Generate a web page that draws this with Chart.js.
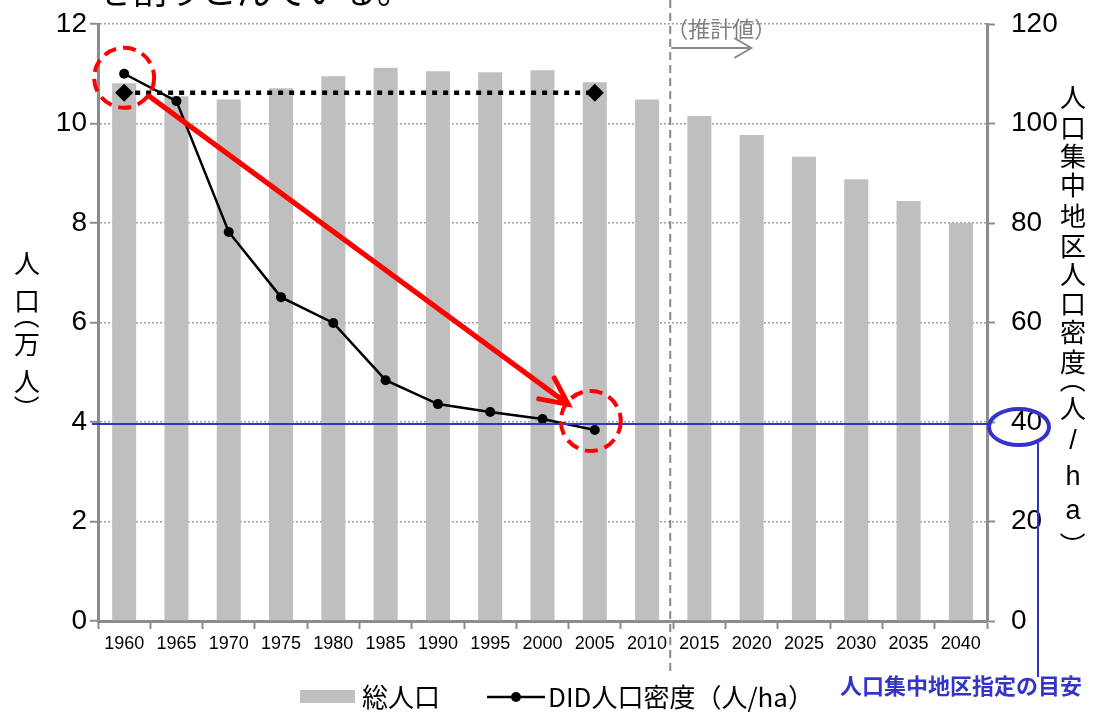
<!DOCTYPE html>
<html>
<head>
<meta charset="utf-8">
<script src="https://cdn.jsdelivr.net/npm/chart.js@4"></script>
<style>
  html, body { margin: 0; padding: 0; background: #fff; }
</style>
</head>
<body>
<canvas id="myChart" width="1102" height="716"></canvas>
<script>
const years = ['1960', '1965', '1970', '1975', '1980', '1985', '1990', '1995', '2000',
  '2005', '2010', '2015', '2020', '2025', '2030', '2035', '2040'];
// 総人口 (万人)
const totalPop = [10.81, 10.55, 10.48, 10.71, 10.95, 11.12, 11.05, 11.03, 11.07,
  10.83, 10.48, 10.15, 9.77, 9.33, 8.88, 8.44, 8.0];
// DID人口密度 (人/ha)
const didDensity = [110.0, 104.5, 78.2, 65.1, 59.9, 48.4, 43.6, 42.0, 40.6, 38.4,
  null, null, null, null, null, null, null];
// dotted reference between 1960 and 2005 (left axis)
const flatRef = [10.62, null, null, null, null, null, null, null, null, 10.62,
  null, null, null, null, null, null, null];
const didTarget = 39.6;   // 人口集中地区指定の目安
const leftTitle = ['人', '口', '（', '万', '人', '）'];
const rightTitle = ['人', '口', '集', '中', '地', '区', '人', '口', '密', '度', '（', '人', '/', 'h', 'a', '）'];

const NUM_FONT = '"Liberation Sans", Arial, sans-serif';
const JP_FONT = '"Noto Sans CJK JP", "Liberation Sans", sans-serif';
const GRAY = '#8c8c8c';
const BLUE = '#3434c8';
const RED = '#ff0000';

// draw one character of a vertical title; brackets are turned to vertical form
function vChar(ctx, ch, x, y) {
  if (ch === '（' || ch === '）') {
    ctx.save();
    ctx.translate(x, y);
    ctx.rotate(Math.PI / 2);
    ctx.fillText(ch, 0, 0);
    ctx.restore();
  } else {
    ctx.fillText(ch, x, y);
  }
}

const overlay = {
  id: 'overlay',
  afterDatasetsDraw(chart) {
    const { ctx, chartArea: a, scales: { x, y1 } } = chart;

    // forecast divider between 2010 and 2015
    const xd = (x.getPixelForValue(10) + x.getPixelForValue(11)) / 2 - 3;
    ctx.save();
    ctx.strokeStyle = '#888';
    ctx.lineWidth = 2;
    ctx.setLineDash([8, 5]);
    ctx.beginPath();
    ctx.moveTo(xd, 0);
    ctx.lineTo(xd, 672);
    ctx.stroke();
    ctx.setLineDash([]);
    // （推計値） arrow
    ctx.lineWidth = 2;
    ctx.beginPath();
    ctx.moveTo(xd + 1, 48);
    ctx.lineTo(xd + 81, 48);
    ctx.moveTo(xd + 64, 38);
    ctx.lineTo(xd + 81, 48);
    ctx.lineTo(xd + 64, 58);
    ctx.stroke();
    ctx.fillStyle = '#808080';
    ctx.font = '22px ' + JP_FONT;
    ctx.textBaseline = 'middle';
    ctx.textAlign = 'left';
    ctx.fillText('（推計値）', xd - 4, 29);

    // target density line
    const yt = y1.getPixelForValue(didTarget);
    const ex = a.right + 32, ey = yt + 3;
    ctx.strokeStyle = BLUE;
    ctx.lineWidth = 2;
    ctx.beginPath();
    ctx.moveTo(a.left - 6, yt);
    ctx.lineTo(ex - 31, yt);
    ctx.stroke();
    ctx.lineWidth = 4;
    ctx.beginPath();
    ctx.ellipse(ex, ey, 30, 18, 0, 0, Math.PI * 2);
    ctx.stroke();
    ctx.lineWidth = 2;
    ctx.beginPath();
    ctx.moveTo(ex + 19, ey + 15);
    ctx.lineTo(ex + 19, 677);
    ctx.stroke();
    ctx.fillStyle = BLUE;
    ctx.font = 'bold 22px ' + JP_FONT;
    ctx.textAlign = 'center';
    ctx.fillText('人口集中地区指定の目安', 961, 686);

    // red dashed circles and arrow
    const c1 = { x: x.getPixelForValue(0), y: y1.getPixelForValue(didDensity[0]) + 4 };
    const c2 = { x: x.getPixelForValue(9) - 4, y: y1.getPixelForValue(didDensity[9]) - 9 };
    const r = 30;
    ctx.strokeStyle = RED;
    ctx.lineWidth = 4;
    ctx.setLineDash([13, 7]);
    [c1, c2].forEach(c => {
      ctx.beginPath();
      ctx.arc(c.x, c.y, r, 0, Math.PI * 2);
      ctx.stroke();
    });
    ctx.setLineDash([]);
    const ang = Math.atan2(c2.y - c1.y, c2.x - c1.x);
    const sx = c1.x + (r + 1) * Math.cos(ang), sy = c1.y + (r + 1) * Math.sin(ang);
    const tx = c2.x - (r - 2) * Math.cos(ang), ty = c2.y - (r - 2) * Math.sin(ang);
    ctx.lineWidth = 5;
    ctx.lineCap = 'round';
    ctx.beginPath();
    ctx.moveTo(sx, sy);
    ctx.lineTo(tx, ty);
    ctx.moveTo(tx - 30 * Math.cos(ang - 0.45), ty - 30 * Math.sin(ang - 0.45));
    ctx.lineTo(tx, ty);
    ctx.lineTo(tx - 30 * Math.cos(ang + 0.45), ty - 30 * Math.sin(ang + 0.45));
    ctx.stroke();
    ctx.restore();
  },
  afterDraw(chart) {
    const { ctx } = chart;
    ctx.save();
    ctx.fillStyle = '#000';
    ctx.textAlign = 'left';
    ctx.textBaseline = 'alphabetic';
    ctx.font = '35px ' + JP_FONT;
    ctx.fillText('を割りこんでいる。', 97, 4);

    // axis titles, stacked vertically
    ctx.textAlign = 'center';
    ctx.textBaseline = 'middle';
    ctx.font = '26px ' + JP_FONT;
    const leftY = [263, 301, 316, 344, 381, 408];
    leftTitle.forEach((ch, i) => vChar(ctx, ch, 27, leftY[i]));
    const rightY = [97, 128, 156, 185, 216, 246, 274, 304, 332, 362, 380, 408, 442, 478, 512, 545];
    rightTitle.forEach((ch, i) => {
      ctx.font = (/[a-z\/]/.test(ch) ? '27px ' + NUM_FONT : '26px ' + JP_FONT);
      vChar(ctx, ch, 1073, rightY[i]);
    });

    // legend
    ctx.textAlign = 'left';
    ctx.fillStyle = '#bfbfbf';
    ctx.fillRect(300, 690, 55, 13);
    ctx.fillStyle = '#000';
    ctx.font = '26px ' + JP_FONT;
    ctx.fillText('総人口', 362, 697);
    ctx.strokeStyle = '#000';
    ctx.lineWidth = 2.5;
    ctx.beginPath();
    ctx.moveTo(487, 697);
    ctx.lineTo(545, 697);
    ctx.stroke();
    ctx.beginPath();
    ctx.arc(516, 697, 5, 0, Math.PI * 2);
    ctx.fill();
    ctx.fillText('DID人口密度（人/ha）', 548, 697);
    ctx.restore();
  }
};

new Chart(document.getElementById('myChart'), {
  type: 'bar',
  data: {
    labels: years,
    datasets: [
      {
        type: 'line',
        label: 'flat',
        data: flatRef,
        yAxisID: 'y',
        spanGaps: true,
        borderColor: '#000',
        borderWidth: 4.5,
        borderDash: [5, 6],
        pointStyle: 'rectRot',
        pointRadius: 9,
        pointBackgroundColor: '#000',
        pointBorderWidth: 0,
        order: 1
      },
      {
        type: 'line',
        label: 'DID人口密度（人/ha）',
        data: didDensity,
        yAxisID: 'y1',
        borderColor: '#000',
        borderWidth: 2.5,
        pointRadius: 5,
        pointBackgroundColor: '#000',
        pointBorderWidth: 0,
        order: 0
      },
      {
        label: '総人口',
        data: totalPop,
        yAxisID: 'y',
        backgroundColor: '#bfbfbf',
        categoryPercentage: 1,
        barPercentage: 0.46,
        order: 2
      }
    ]
  },
  options: {
    responsive: false,
    animation: false,
    devicePixelRatio: 1,
    layout: { padding: { top: 24, left: 0, right: 0, bottom: 0 } },
    plugins: { legend: { display: false }, tooltip: { enabled: false } },
    scales: {
      x: {
        grid: { drawOnChartArea: false, tickLength: 8, tickColor: GRAY, tickWidth: 2 },
        border: { color: GRAY, width: 3 },
        ticks: { color: '#000', font: { family: NUM_FONT, size: 18 }, padding: 4, maxRotation: 0, autoSkip: false },
        afterFit(s) { s.height = 95; s.paddingLeft = 0; s.paddingRight = 0; }
      },
      y: {
        position: 'left',
        min: 0,
        max: 12,
        ticks: { stepSize: 2, color: '#000', font: { family: NUM_FONT, size: 28 }, padding: 3 },
        grid: {
          color: c => (c.tick && c.tick.value === 0 ? 'rgba(0,0,0,0)' : '#a0a0a0'),
          lineWidth: 1.5,
          tickColor: GRAY,
          tickLength: 8,
          tickWidth: 2,
          tickBorderDash: []
        },
        border: { color: GRAY, width: 3, dash: [2, 2] },
        afterFit(s) { s.width = 98; s.paddingTop = 0; s.paddingBottom = 0; }
      },
      y1: {
        position: 'right',
        min: 0,
        max: 120,
        ticks: { stepSize: 20, color: '#000', font: { family: NUM_FONT, size: 28 }, padding: 16 },
        grid: { drawOnChartArea: false, tickColor: GRAY, tickLength: 8, tickWidth: 2 },
        border: { color: GRAY, width: 3 },
        afterFit(s) { s.width = 115; s.paddingTop = 0; s.paddingBottom = 0; }
      }
    }
  },
  plugins: [overlay]
});
</script>
</body>
</html>
